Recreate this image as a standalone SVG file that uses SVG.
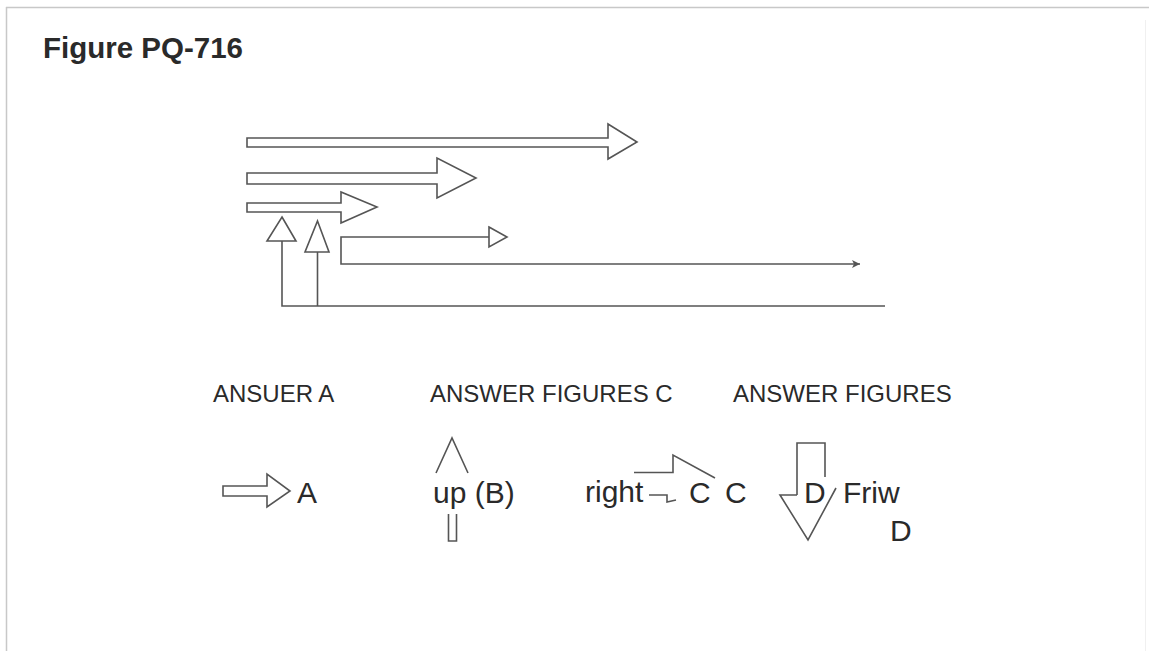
<svg xmlns="http://www.w3.org/2000/svg" width="1149" height="651" viewBox="0 0 1149 651">
<style>
.ln{fill:none;stroke:#555;stroke-width:1.6;stroke-linejoin:miter}
.blk{fill:#fff;stroke:#555;stroke-width:1.6}
.t{font-family:"Liberation Sans",Arial,sans-serif;fill:#2a2a2a}
.h{font-size:24px}
.b{font-size:30px}
</style>
<defs>
<marker id="ah" markerWidth="10" markerHeight="10" refX="8" refY="4" orient="auto" markerUnits="userSpaceOnUse">
<path d="M0,0 L8,4 L0,8 L2,4 Z" fill="#555"/>
</marker>
</defs>
<rect width="1149" height="651" fill="#fff"/>
<g id="frame">
<line x1="6" y1="7.5" x2="1149" y2="7.5" stroke="#c8c8c8" stroke-width="1.5"/>
<line x1="6.5" y1="7" x2="6.5" y2="651" stroke="#c8c8c8" stroke-width="1.5"/>
<line x1="1145.5" y1="20" x2="1145.5" y2="651" stroke="#f0f0f0" stroke-width="1"/>
</g>
<g id="title"><text class="t" x="43" y="58" font-size="29.5" font-weight="bold">Figure PQ-716</text></g>
<g id="connectors">
<path id="arrow1" class="blk" d="M247,138 H608 V124 L637,142 L608,159 V147 H247 Z"/>
<path id="arrow2" class="blk" d="M247,173 H437 V158 L476,178 L437,198 V184 H247 Z"/>
<path id="arrow3" class="blk" d="M247,203 H341 V192 L377,207 L341,223 V212 H247 Z"/>
<path id="up1" class="ln" d="M282,241 V306 H885"/>
<path class="blk" d="M282,217 L296,241 L267,241 Z"/>
<path id="up2" class="ln" d="M317.5,252 V306"/>
<path class="blk" d="M317.5,221 L329,252 L305,252 Z"/>
<path id="bracket" class="ln" d="M489,237 H341 V264 H860" marker-end="url(#ah)"/>
<path class="blk" d="M489,227 L507,237 L489,247 Z"/>
</g>
<g id="ansA-label"><text class="t h" x="213" y="402">ANSUER A</text></g>
<g id="ansC-label"><text class="t h" x="430" y="402">ANSWER FIGURES C</text></g>
<g id="ans-label"><text class="t h" x="733" y="402">ANSWER FIGURES</text></g>
<g id="optA">
<path class="blk" d="M223,486 H267 V474 L290,491 L267,507 V496 H223 Z"/>
<text class="t b" x="297" y="503">A</text>
</g>
<g id="optB">
<path class="ln" d="M436,473 L452,438 L468,473"/>
<text class="t b" x="433" y="503">up (B)</text>
<path class="ln" d="M448.5,514 V541 H456.5 V514"/>
</g>
<g id="optC">
<text class="t b" x="585" y="502">right</text>
<path class="ln" d="M649,495 H667 V502 L676,500"/>
<path class="ln" d="M634,472.5 H673 V455 L715,478"/>
<text class="t b" x="689" y="503">C</text>
<text class="t b" x="725" y="503">C</text>
</g>
<g id="optD">
<path class="ln" d="M797,495 V443 H825 V477"/>
<path class="ln" d="M797,495 H780 L808,540 L836,488"/>
<text class="t b" x="804" y="503">D</text>
<text class="t b" x="843" y="503">Friw</text>
<text class="t b" x="890" y="541">D</text>
</g>
</svg>
